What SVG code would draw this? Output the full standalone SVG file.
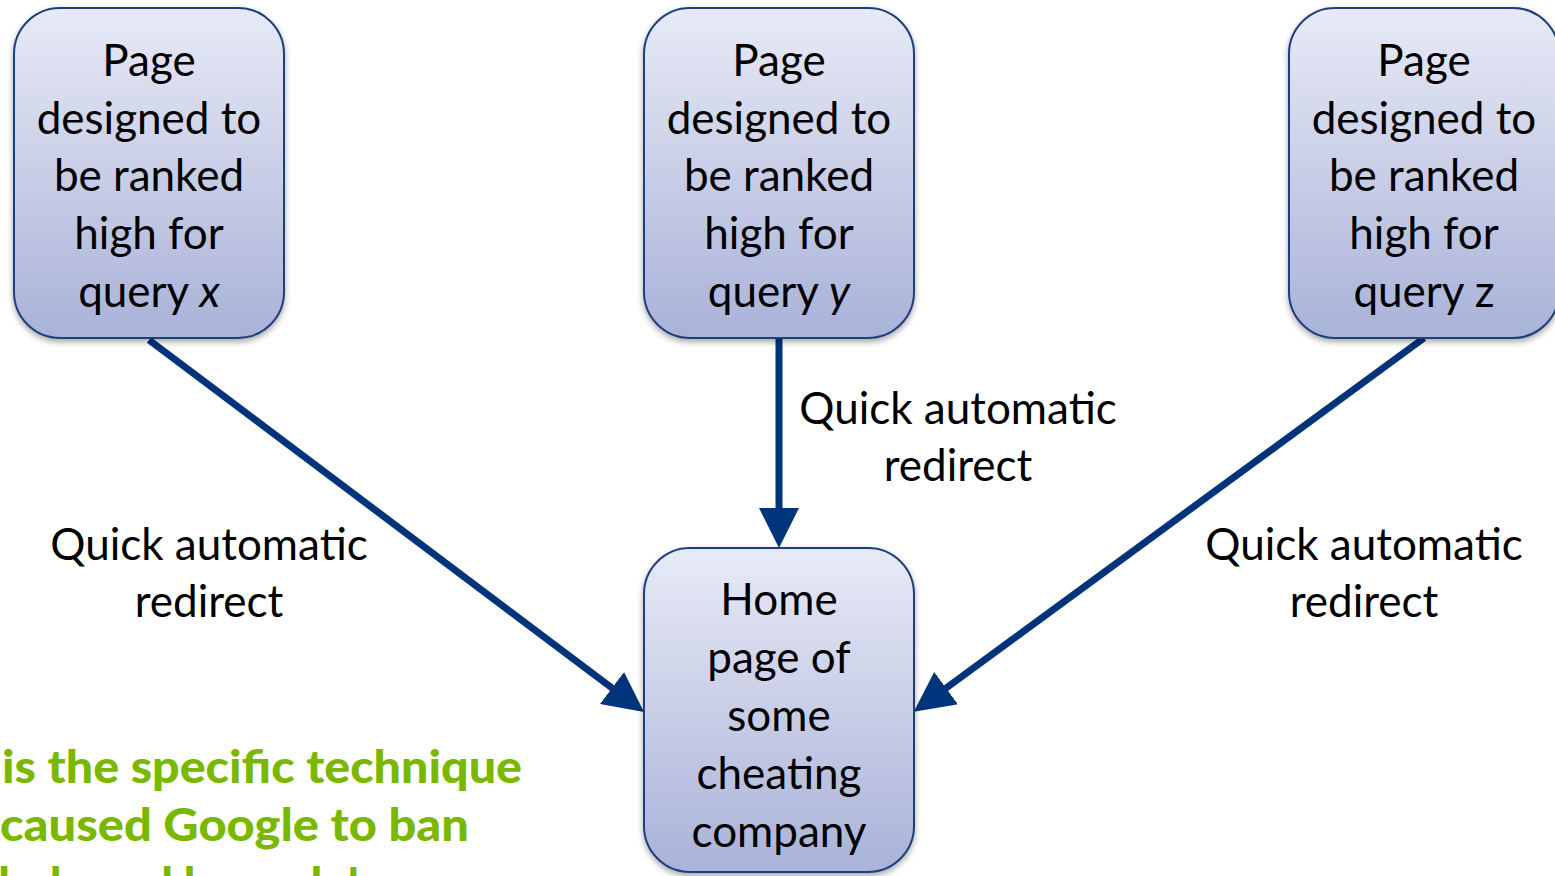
<svg xmlns="http://www.w3.org/2000/svg" width="1555" height="876" viewBox="0 0 1555 876">
<defs>
<linearGradient id="boxfill" x1="0" y1="0" x2="0" y2="1">
<stop offset="0" stop-color="#e8eaf6"/>
<stop offset="1" stop-color="#a9b2d8"/>
</linearGradient>
<filter id="shadow" x="-10%" y="-10%" width="120%" height="120%">
<feDropShadow dx="0" dy="3" stdDeviation="3" flood-color="#000" flood-opacity="0.35"/>
</filter>
<marker id="arrow" markerUnits="userSpaceOnUse" markerWidth="40" markerHeight="40" refX="10" refY="20" orient="auto">
<path d="M0,0 L40,20 L0,40 Z" fill="#00347a"/>
</marker>
<style>
.box{fill:url(#boxfill);stroke:#1f3f7e;stroke-width:2;filter:url(#shadow)}
.t{font-family:Lato,"Open Sans","Liberation Sans",sans-serif;font-size:44px;fill:#000;text-anchor:middle}
.g{font-family:Lato,"Open Sans","Liberation Sans",sans-serif;font-size:46px;font-weight:900;fill:#7ab800}
.conn{stroke:#00347a;stroke-width:7;fill:none;marker-end:url(#arrow)}
</style>
</defs>
<rect width="1555" height="876" fill="#fff"/>
<g id="connectors">
<line class="conn" x1="149" y1="340" x2="620" y2="694"/>
<line class="conn" x1="779" y1="338" x2="779" y2="518"/>
<line class="conn" x1="1424" y1="338" x2="938" y2="694"/>
</g>
<g id="node-x">
<rect class="box" x="14" y="8" width="270" height="330" rx="46"/>
<text class="t" x="149"><tspan x="149" y="76">Page</tspan><tspan x="149" y="134">designed to</tspan><tspan x="149" y="191">be ranked</tspan><tspan x="149" y="249">high for</tspan><tspan x="149" y="307">query <tspan font-style="italic">x</tspan></tspan></text>
</g>
<g id="node-y">
<rect class="box" x="644" y="8" width="270" height="330" rx="46"/>
<text class="t" x="779"><tspan x="779" y="76">Page</tspan><tspan x="779" y="134">designed to</tspan><tspan x="779" y="191">be ranked</tspan><tspan x="779" y="249">high for</tspan><tspan x="779" y="307">query <tspan font-style="italic">y</tspan></tspan></text>
</g>
<g id="node-z">
<rect class="box" x="1289" y="8" width="270" height="330" rx="46"/>
<text class="t" x="1424"><tspan x="1424" y="76">Page</tspan><tspan x="1424" y="134">designed to</tspan><tspan x="1424" y="191">be ranked</tspan><tspan x="1424" y="249">high for</tspan><tspan x="1424" y="307">query z</tspan></text>
</g>
<g id="node-home">
<rect class="box" x="644" y="548" width="270" height="324" rx="46"/>
<text class="t" x="779"><tspan x="779" y="615">Home</tspan><tspan x="779" y="673">page of</tspan><tspan x="779" y="731">some</tspan><tspan x="779" y="789">cheating</tspan><tspan x="779" y="847">company</tspan></text>
</g>
<g id="labels">
<text class="t"><tspan x="209" y="560">Quick automatic</tspan><tspan x="209" y="617">redirect</tspan></text>
<text class="t"><tspan x="958" y="424">Quick automatic</tspan><tspan x="958" y="481">redirect</tspan></text>
<text class="t"><tspan x="1364" y="560">Quick automatic</tspan><tspan x="1364" y="617">redirect</tspan></text>
</g>
<g id="note">
<text class="g" x="2" y="783" textLength="520" lengthAdjust="spacingAndGlyphs">is the specific technique</text>
<text class="g" x="0" y="841" textLength="469" lengthAdjust="spacingAndGlyphs">caused Google to ban</text>
<text class="g" x="360" y="900" text-anchor="end">ricoh.de and bmw.de!</text>
</g>
</svg>
